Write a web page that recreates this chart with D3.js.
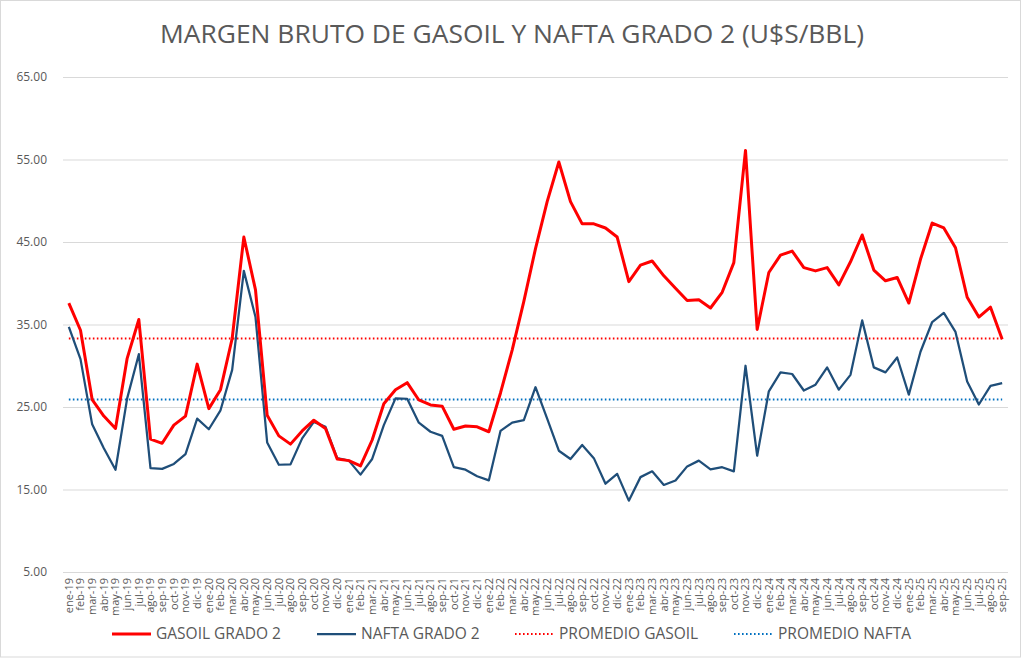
<!DOCTYPE html>
<html>
<head>
<meta charset="utf-8">
<script src="https://cdn.jsdelivr.net/npm/d3@7"></script>
<style>
  html, body { margin: 0; padding: 0; background: #fff; }
  svg { display: block; font-family: "Open Sans", "Liberation Sans", sans-serif; }
</style>
</head>
<body>
<svg id="chart" width="1023" height="659"></svg>
<script>
// ---- Data ----
const monthNames = ["ene","feb","mar","abr","may","jun","jul","ago","sep","oct","nov","dic"];
const years = ["19","20","21","22","23","24","25"];
const lastMonthIndex2025 = 8; // sep-25
const categories = [];
years.forEach((yy, yi) => {
  monthNames.forEach((m, mi) => {
    if (yi === years.length - 1 && mi > lastMonthIndex2025) return;
    categories.push(m + "-" + yy);
  });
});

const gasoil = [
  37.6, 34.3, 25.9, 23.9, 22.4, 30.9, 35.6, 21.1, 20.6, 22.8, 23.9, 30.2,
  24.8, 27.1, 33.3, 45.6, 39.2, 24.0, 21.5, 20.5, 22.1, 23.4, 22.4, 18.7,
  18.5, 17.85, 21.0, 25.4, 27.1, 27.95, 25.85, 25.25, 25.1, 22.3, 22.7, 22.6,
  22.0, 26.7, 31.9, 37.8, 44.2, 49.9, 54.7, 49.9, 47.2, 47.2, 46.7, 45.6,
  40.2, 42.2, 42.7, 40.9, 39.4, 37.9, 38.0, 37.0, 38.9, 42.5, 56.1, 34.4,
  41.3, 43.4, 43.9, 41.9, 41.5, 41.9, 39.8, 42.6, 45.85, 41.6, 40.3, 40.7,
  37.6, 42.9, 47.3, 46.7, 44.3, 38.3, 35.9, 37.1, 33.2
];
const nafta = [
  34.7, 30.8, 22.9, 20.0, 17.4, 26.05, 31.4, 17.6, 17.5, 18.1, 19.3, 23.6,
  22.3, 24.6, 29.5, 41.5, 35.9, 20.7, 18.0, 18.05, 21.2, 23.2, 22.6, 18.8,
  18.5, 16.8, 18.7, 22.8, 26.05, 26.0, 23.1, 22.0, 21.5, 17.7, 17.4, 16.6,
  16.1, 22.1, 23.1, 23.4, 27.4, 23.6, 19.7, 18.7, 20.4, 18.8, 15.7, 16.9,
  13.65, 16.5, 17.2, 15.55, 16.1, 17.8, 18.5, 17.45, 17.7, 17.2, 30.0, 19.1,
  26.9, 29.2, 29.0, 27.0, 27.7, 29.8, 27.1, 28.9, 35.5, 29.8, 29.2, 31.0,
  26.5, 31.7, 35.3, 36.4, 34.1, 28.1, 25.3, 27.55, 27.9
];
const promedioGasoil = 33.3;
const promedioNafta = 25.9;
const yTicks = [5, 15, 25, 35, 45, 55, 65];

const title = "MARGEN BRUTO DE GASOIL Y NAFTA GRADO 2 (U$S/BBL)";
const legendItems = [
  { label: "GASOIL GRADO 2", color: "#ff0000", width: 3, dash: null, x: 112 },
  { label: "NAFTA GRADO 2", color: "#1f4e79", width: 2.25, dash: null, x: 317 },
  { label: "PROMEDIO GASOIL", color: "#ff0000", width: 2, dash: "1.6,2.4", x: 515 },
  { label: "PROMEDIO NAFTA", color: "#0070c0", width: 2, dash: "1.6,2.4", x: 734 }
];

// ---- Layout ----
const svg = d3.select("#chart");
const W = 1023, H = 659;
const plot = { left: 63, right: 1008, top: 77, bottom: 572 };
const textColor = "#595959";
const gridColor = "#d9d9d9";

svg.append("rect").attr("x", 0.5).attr("y", 0.5).attr("width", 1020).attr("height", 656.5)
  .attr("fill", "#fff").attr("stroke", gridColor).attr("stroke-width", 1);

const x = d3.scaleBand().domain(categories).range([plot.left, plot.right]).padding(0);
const xc = c => x(c) + x.bandwidth() / 2;
const y = d3.scaleLinear().domain([5, 65]).range([plot.bottom, plot.top]);

// Title
svg.append("text").attr("x", 512).attr("y", 43).attr("text-anchor", "middle")
  .attr("fill", textColor).attr("font-size", 25)
  .attr("textLength", 704).attr("lengthAdjust", "spacingAndGlyphs")
  .text(title);

// Gridlines + y axis labels
const yAxis = d3.axisLeft(y).tickValues(yTicks).tickFormat(d3.format(".2f"))
  .tickSize(-(plot.right - plot.left)).tickPadding(16);
const gy = svg.append("g").attr("transform", `translate(${plot.left},0)`).call(yAxis);
gy.select(".domain").remove();
gy.selectAll(".tick line").attr("stroke", gridColor).attr("stroke-width", 1);
gy.selectAll(".tick text").attr("fill", textColor).attr("font-size", 12)
  .attr("font-family", "'Open Sans', sans-serif");

// X axis labels
const xAxis = d3.axisBottom(x).tickSize(0).tickPadding(0);
const gx = svg.append("g").attr("transform", `translate(0,${plot.bottom})`).call(xAxis);
gx.select(".domain").remove();
gx.selectAll(".tick text")
  .attr("fill", textColor).attr("font-size", 11)
  .attr("font-family", "'Open Sans', sans-serif")
  .attr("text-anchor", "end")
  .attr("transform", "translate(0,6) rotate(-90)")
  .attr("x", 0).attr("y", 0).attr("dy", "0.35em");

// Average lines
const avgLine = v => d3.line().x(c => xc(c)).y(() => y(v));
svg.append("path").datum(categories).attr("d", avgLine(promedioNafta))
  .attr("fill", "none").attr("stroke", "#0070c0").attr("stroke-width", 2)
  .attr("stroke-dasharray", "1.6,2.4");
svg.append("path").datum(categories).attr("d", avgLine(promedioGasoil))
  .attr("fill", "none").attr("stroke", "#ff0000").attr("stroke-width", 2)
  .attr("stroke-dasharray", "1.6,2.4");

// Series lines
const line = d3.line().x((d, i) => xc(categories[i])).y(d => y(d)).curve(d3.curveLinear);
svg.append("path").datum(nafta).attr("d", line)
  .attr("fill", "none").attr("stroke", "#1f4e79").attr("stroke-width", 2.25)
  .attr("stroke-linejoin", "round");
svg.append("path").datum(gasoil).attr("d", line)
  .attr("fill", "none").attr("stroke", "#ff0000").attr("stroke-width", 3)
  .attr("stroke-linejoin", "round");

// Legend
const legendY = 634;
const lg = svg.append("g");
legendItems.forEach(it => {
  lg.append("line").attr("x1", it.x).attr("x2", it.x + 39).attr("y1", legendY).attr("y2", legendY)
    .attr("stroke", it.color).attr("stroke-width", it.width)
    .attr("stroke-dasharray", it.dash);
  lg.append("text").attr("x", it.x + 44).attr("y", legendY).attr("dy", "0.35em")
    .attr("fill", textColor).attr("font-size", 15.5).text(it.label);
});
</script>
</body>
</html>
